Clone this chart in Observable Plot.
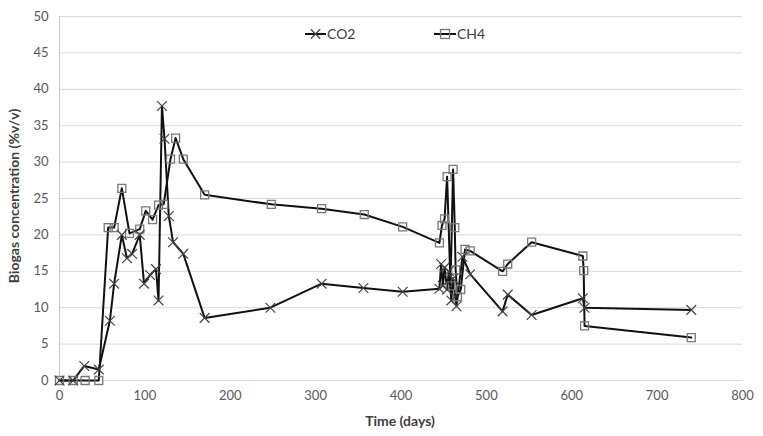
<!DOCTYPE html>
<html>
<head>
<meta charset="utf-8">
<script src="https://cdn.jsdelivr.net/npm/d3@7"></script>
<script src="https://cdn.jsdelivr.net/npm/@observablehq/plot@0.6"></script>
<style>
  html, body { margin: 0; padding: 0; background: #fff; }
</style>
</head>
<body>
<div id="chart"></div>
<script>
const xTicks = [0, 100, 200, 300, 400, 500, 600, 700, 800];
const yTicks = [0, 5, 10, 15, 20, 25, 30, 35, 40, 45, 50];

const co2Days   = [0, 16, 29, 46, 59, 64, 73, 79, 85, 94, 99, 106, 113, 116, 120, 123, 128, 133, 145, 170, 247, 307, 356, 402, 445, 447, 449, 451, 454, 456, 459, 461, 465, 472, 481, 519, 525, 553, 613, 615, 740];
const co2Values = [0, 0, 2.0, 1.5, 8.2, 13.3, 20.0, 16.8, 17.4, 20.0, 13.3, 14.5, 15.3, 11.0, 37.7, 33.2, 22.6, 19.0, 17.4, 8.6, 10.0, 13.3, 12.7, 12.2, 12.6, 16.0, 13.0, 15.5, 12.5, 15.0, 11.0, 14.0, 10.2, 17.0, 14.6, 9.5, 11.8, 9.0, 11.3, 10.0, 9.7];

const ch4Days   = [0, 16, 30, 46, 57, 64, 73, 82, 94, 101, 109, 116, 122, 130, 136, 145, 170, 248, 307, 357, 402, 445, 448, 451, 454, 458, 461, 463, 464, 466, 470, 475, 481, 519, 525, 553, 613, 614, 615, 740];
const ch4Values = [0, 0, 0, 0, 21.0, 21.0, 26.4, 20.2, 20.8, 23.3, 22.1, 24.1, 24.2, 30.4, 33.3, 30.4, 25.5, 24.2, 23.6, 22.8, 21.1, 18.9, 21.3, 22.2, 28.0, 13.0, 29.0, 21.0, 15.2, 11.5, 12.5, 18.0, 17.8, 15.0, 16.0, 19.0, 17.1, 15.1, 7.5, 5.9];

const co2 = co2Days.map((d, i) => ({day: d, value: co2Values[i]}));
const ch4 = ch4Days.map((d, i) => ({day: d, value: ch4Values[i]}));

const FONT = "Lato, 'Open Sans', 'Liberation Sans', sans-serif";

const chart = Plot.plot({
  width: 763,
  height: 436,
  marginLeft: 59,
  marginRight: 21,
  marginTop: 16,
  marginBottom: 56,
  style: {fontFamily: FONT, fontSize: "13px", color: "#595959", background: "#fff", overflow: "visible"},
  x: {domain: [0, 800], label: null},
  y: {domain: [0, 50], label: null},
  marks: [
    Plot.gridY(yTicks, {stroke: "#d9d9d9", strokeOpacity: 1, strokeWidth: 1}),
    Plot.ruleX([0], {stroke: "#c8c8c8", strokeWidth: 1}),
    Plot.axisX(xTicks, {tickSize: 0, tickPadding: 10, fontSize: 13, fill: "#595959", label: null}),
    Plot.axisY(yTicks, {tickSize: 0, tickPadding: 11, fontSize: 13, fill: "#595959", label: null}),
    Plot.line(ch4, {x: "day", y: "value", stroke: "#111", strokeWidth: 2}),
    Plot.line(co2, {x: "day", y: "value", stroke: "#111", strokeWidth: 2}),
    Plot.dot(ch4, {x: "day", y: "value", symbol: "square", r: 4.5, stroke: "#777", strokeWidth: 1.3, fill: "none"}),
    Plot.dot(co2, {x: "day", y: "value", symbol: "times", r: 4.5, stroke: "#444", strokeWidth: 1.2})
  ]
});

const svg = d3.select(chart);

// Axis titles
svg.append("text")
  .attr("x", 400).attr("y", 426)
  .attr("text-anchor", "middle")
  .attr("font-family", FONT).attr("font-size", 14).attr("font-weight", "bold")
  .attr("fill", "#404040")
  .text("Time (days)");

svg.append("text")
  .attr("transform", "translate(19,196) rotate(-90)")
  .attr("text-anchor", "middle")
  .attr("font-family", FONT).attr("font-size", 14).attr("font-weight", "bold")
  .attr("fill", "#404040")
  .text("Biogas concentration (%v/v)");

// Legend
const lg = svg.append("g").attr("font-family", FONT).attr("font-size", 14).attr("fill", "#404040").attr("text-anchor", "start");
lg.append("line").attr("x1", 305).attr("x2", 326).attr("y1", 34).attr("y2", 34).attr("stroke", "#111").attr("stroke-width", 2);
lg.append("path").attr("d", d3.symbol(d3.symbolTimes, 60)()).attr("transform", "translate(315.5,34)").attr("stroke", "#444").attr("stroke-width", 1.2).attr("fill", "none");
lg.append("text").attr("x", 327).attr("y", 39).attr("text-anchor", "start").text("CO2");

lg.append("line").attr("x1", 434).attr("x2", 456).attr("y1", 34).attr("y2", 34).attr("stroke", "#111").attr("stroke-width", 2);
lg.append("rect").attr("x", 440.5).attr("y", 29.5).attr("width", 9).attr("height", 9).attr("stroke", "#777").attr("stroke-width", 1.3).attr("fill", "none");
lg.append("text").attr("x", 457).attr("y", 39).attr("text-anchor", "start").text("CH4");

document.getElementById("chart").appendChild(chart);
</script>
</body>
</html>
